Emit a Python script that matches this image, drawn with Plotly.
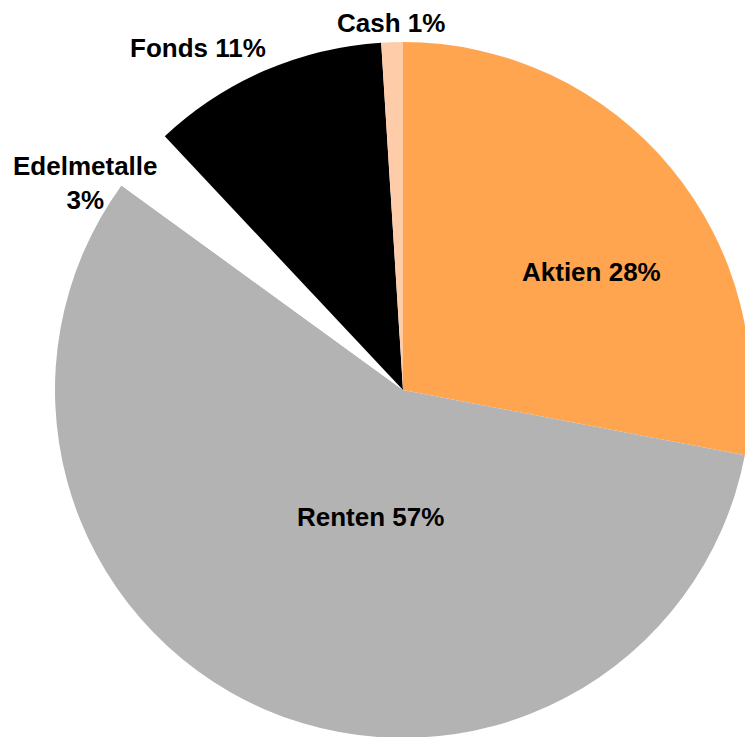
import plotly.graph_objects as go

categories = ["Aktien", "Renten", "Edelmetalle", "Fonds", "Cash"]
values = [28, 57, 3, 11, 1]
colors = ["#FFA54F", "#B3B3B3", "#FFFFFF", "#000000", "#FFCCAA"]
label_texts = ["Aktien 28%", "Renten 57%", "Edelmetalle<br>3%", "Fonds 11%", "Cash 1%"]

# figure slightly larger than the window; the page clips the overflow
W, H = 752, 740

# pie centre (403, 390) radius 348 in window pixels
cx, cy, r = 403, 390, 348
fig = go.Figure(go.Pie(
    labels=categories,
    values=values,
    marker=dict(colors=colors, line=dict(width=0)),
    sort=False,
    direction="clockwise",
    rotation=0,
    textinfo="none",
    hoverinfo="label+percent",
    showlegend=False,
    domain=dict(x=[(cx - r) / W, (cx + r) / W], y=[(H - cy - r) / H, (H - cy + r) / H]),
))

# label positions (window pixel centres)
label_pos = [(591, 272), (370, 517), (85, 183), (198, 48), (391, 23)]
for txt, (px, py) in zip(label_texts, label_pos):
    fig.add_annotation(
        x=px / W, y=1 - py / H, xref="paper", yref="paper",
        text=f"<b>{txt}</b>", showarrow=False,
        font=dict(family="Liberation Sans, Arial, sans-serif", size=26, color="#000000"),
        xanchor="center", yanchor="middle", align="center",
    )

fig.update_layout(
    width=W, height=H,
    margin=dict(l=0, r=0, t=0, b=0),
    paper_bgcolor="#FFFFFF",
    plot_bgcolor="#FFFFFF",
)

fig.write_html(
    "out.html",
    config={"displayModeBar": False},
    post_script="document.body.style.margin='0';document.body.style.overflow='hidden';document.documentElement.style.overflow='hidden';",
)
